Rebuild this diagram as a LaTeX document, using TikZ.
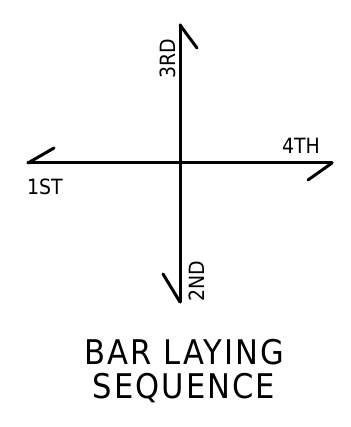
\documentclass[tikz,border=0pt]{standalone}
\usepackage{fontspec}
\setmainfont{DejaVu Sans Condensed}
\usetikzlibrary{positioning}

\begin{document}
\begin{tikzpicture}[x=0.5pt, y=-0.5pt,
  bar/.style={line width=1.5pt, line cap=round},
  lbl/.style={inner sep=0pt, font=\fontsize{10.5}{12}\selectfont},
  ttl/.style={inner sep=0pt, font=\fontsize{17}{20}\selectfont\addfontfeature{LetterSpace=6}}]
\useasboundingbox (0,0) rectangle (350,427);
% Axis ends
\coordinate (c) at (180,163);
\coordinate (top) at (180,25);
\coordinate (bot) at (180,302);
\coordinate (lft) at (28,163);
\coordinate (rgt) at (332,163);
% Bars
\draw[bar] (top) -- (bot);
\draw[bar] (lft) -- (rgt);
% Half arrow heads
\draw[bar] (top) -- ++(17,23);
\draw[bar] (bot) -- ++(-17,-28);
\draw[bar] (lft) -- ++(26,-15);
\draw[bar] (rgt) -- ++(-24,17);
% Sequence labels
\node[lbl, rotate=90] (third) at (168,59) {3RD};
\node[lbl, rotate=90] (second) at (197,281) {2ND};
\node[lbl] (first) at (45,187) {1ST};
\node[lbl] (fourth) at (301,146) {4TH};
% Title
\node[ttl] (title) at (184,352) {BAR LAYING};
\node[ttl, below=4pt of title] (title2) {SEQUENCE};
\end{tikzpicture}
\end{document}
